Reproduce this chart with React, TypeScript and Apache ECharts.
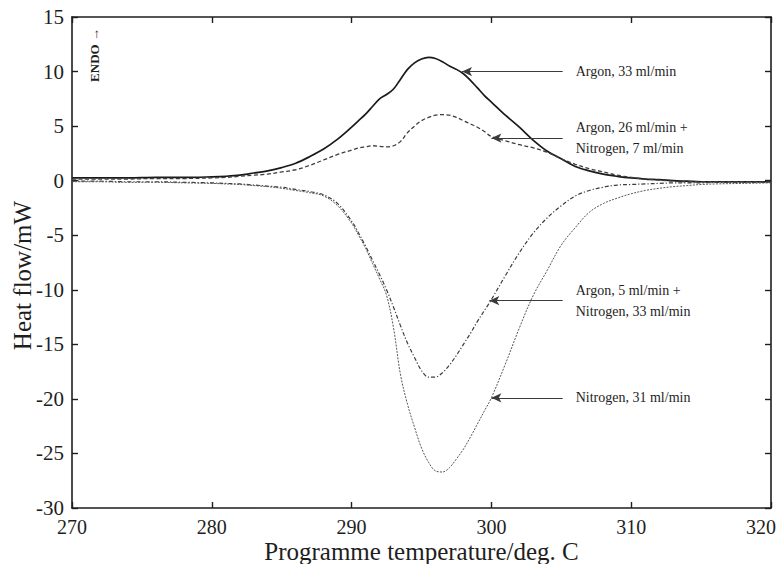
import React, { useEffect, useRef } from "react";
import * as echarts from "echarts";

// Programme temperature (deg. C) at which each heat-flow trace is sampled
const temperature = [
  270, 272, 274, 276, 278, 280,
  281, 282, 283, 284, 285, 286, 287, 288, 289, 290,
  290.5, 291, 291.5, 292, 292.5, 293, 293.5, 294, 294.5, 295,
  295.5, 296, 296.5, 297, 297.5, 298, 298.5, 299, 299.5, 300,
  301, 302, 303, 304, 305, 306, 307, 308, 309, 310, 311, 312, 313, 314, 315, 316,
  318, 320,
];

// Heat flow (mW) for each purge-gas mixture
const argon33 = [
  0.25, 0.25, 0.25, 0.3, 0.3, 0.35,
  0.4, 0.5, 0.7, 0.9, 1.2, 1.6, 2.2, 2.9, 3.8, 4.9,
  5.5, 6.1, 6.8, 7.5, 7.9, 8.4, 9.3, 10.2, 10.8, 11.15,
  11.3, 11.2, 10.9, 10.5, 10.2, 9.8, 9.2, 8.5, 7.8, 7.2,
  6.0, 4.9, 3.7, 2.7, 2.0, 1.3, 0.9, 0.6, 0.4, 0.25, 0.15, 0.1, 0.0, -0.05, -0.1, -0.1,
  -0.1, -0.1,
];

const argon26Nitrogen7 = [
  0.15, 0.15, 0.15, 0.2, 0.2, 0.25,
  0.3, 0.4, 0.5, 0.6, 0.8, 1.0, 1.4, 1.9, 2.4, 2.8,
  3.0, 3.1, 3.2, 3.15, 3.1, 3.2, 3.6, 4.4, 5.0, 5.5,
  5.8, 6.0, 6.05, 6.0, 5.8, 5.5, 5.2, 4.9, 4.5, 4.05,
  3.65, 3.3, 3.0, 2.6, 2.0, 1.5, 1.1, 0.8, 0.5, 0.3, 0.15, 0.05, -0.05, -0.1, -0.1, -0.1,
  -0.1, -0.1,
];

const argon5Nitrogen33 = [
  -0.05, -0.05, -0.1, -0.1, -0.15, -0.2,
  -0.25, -0.3, -0.4, -0.5, -0.6, -0.8, -1.0, -1.3, -2.1, -3.7,
  -4.8, -6.0, -7.3, -8.6, -10.0, -11.6, -13.3, -14.9, -16.2, -17.4,
  -18.0, -18.0, -17.6, -16.9, -16.0, -15.0, -14.0, -12.9, -11.9, -10.9,
  -8.7, -6.6, -4.8, -3.4, -2.3, -1.4, -0.9, -0.6, -0.4, -0.35, -0.3, -0.25, -0.2, -0.2, -0.2, -0.15,
  -0.15, -0.15,
];

const nitrogen31 = [
  -0.1, -0.1, -0.15, -0.15, -0.2, -0.25,
  -0.3, -0.35, -0.45, -0.55, -0.7, -0.9, -1.1, -1.4, -2.3, -3.9,
  -5.0, -6.2, -7.6, -9.0, -10.5, -13.5, -17.8, -20.5, -22.6, -24.5,
  -25.8, -26.6, -26.7, -26.3, -25.5, -24.6, -23.5, -22.3, -21.1, -19.9,
  -16.8, -13.5, -10.5, -8.2, -5.9, -4.3, -2.9, -2.1, -1.6, -1.2, -0.9, -0.7, -0.55, -0.45, -0.35, -0.3,
  -0.25, -0.2,
];

// Callout labels and where their arrows sit: [arrow tip T, tail T, heat flow]
const calloutLabels = [
  "Argon, 33 ml/min",
  "Argon, 26 ml/min +\nNitrogen, 7 ml/min",
  "Argon, 5 ml/min +\nNitrogen, 33 ml/min",
  "Nitrogen, 31 ml/min",
];
const calloutArrows = [
  [297.9, 305.1, 10.0],
  [300.0, 305.1, 3.9],
  [299.85, 305.1, -11.0],
  [300.0, 305.1, -19.9],
];

const xTicks = { min: 270, max: 320, interval: 10 };
const yTicks = { min: -30, max: 15, interval: 5 };

const SERIF = '"Liberation Serif", "Times New Roman", serif';
const INK = "#1e1e1e";

function pairs(values: number[]) {
  return temperature.map((t, i) => [t, values[i]]);
}

function callout(i: number) {
  const [tip, tail, v] = calloutArrows[i];
  return {
    silent: true,
    symbol: ["arrow", "none"],
    symbolSize: [7, 10],
    lineStyle: { color: "#3a3a3a", width: 1.2, type: "solid" },
    label: {
      show: true,
      position: "end",
      distance: 13,
      formatter: calloutLabels[i],
      color: INK,
      fontFamily: SERIF,
      fontSize: 14,
      lineHeight: 21,
      align: "left",
    },
    data: [[{ coord: [tip, v] }, { coord: [tail, v] }]],
  };
}

// Boxed frame: axis line plus short inward ticks on every side
const frameAxis = {
  axisLine: { show: true, onZero: false, lineStyle: { color: INK, width: 1.6 } },
  axisTick: { show: true, inside: true, length: 6, lineStyle: { color: INK, width: 1.4 } },
  splitLine: { show: false },
};

export default function App() {
  const ref = useRef<HTMLDivElement>(null);

  useEffect(() => {
    if (!ref.current) return;
    const chart = echarts.init(ref.current, null, { renderer: "svg" });

    const curve = (
      name: string,
      values: number[],
      lineStyle: any,
      markIndex: number
    ) => ({
      name,
      type: "line",
      xAxisIndex: 0,
      yAxisIndex: 0,
      data: pairs(values),
      smooth: 0.35,
      showSymbol: false,
      symbol: "none",
      lineStyle,
      markLine: callout(markIndex),
      z: 3,
    });

    chart.setOption({
      animation: false,
      backgroundColor: "#ffffff",
      textStyle: { fontFamily: SERIF },
      grid: {
        left: 72,
        right: 12,
        top: 17,
        bottom: 56,
        containLabel: false,
        outerBoundsMode: "none",
      },
      xAxis: [
        {
          type: "value",
          position: "bottom",
          ...xTicks,
          ...frameAxis,
          name: "Programme temperature/deg. C",
          nameLocation: "middle",
          nameGap: 31,
          nameMoveOverlap: false,
          nameTextStyle: { fontFamily: SERIF, fontSize: 25, color: INK },
          axisLabel: {
            color: INK,
            fontFamily: SERIF,
            fontSize: 20,
            lineHeight: 22,
            margin: 8,
            formatter: (v: number) => (v === xTicks.max ? `{edge|${v}}` : `${v}`),
            rich: {
              edge: { fontFamily: SERIF, fontSize: 20, lineHeight: 22, color: INK, padding: [0, 20, 0, 0] },
            },
          },
        },
        {
          type: "value",
          position: "top",
          ...xTicks,
          ...frameAxis,
          axisLabel: { show: false },
        },
      ],
      yAxis: [
        {
          type: "value",
          position: "left",
          ...yTicks,
          ...frameAxis,
          name: "Heat flow/mW",
          nameLocation: "middle",
          nameGap: 37,
          nameMoveOverlap: false,
          nameTextStyle: {
            fontFamily: SERIF,
            fontSize: 25,
            color: INK,
            padding: [0, 26, 0, 0],
          },
          axisLabel: { color: INK, fontFamily: SERIF, fontSize: 21, margin: 8 },
        },
        {
          type: "value",
          position: "right",
          ...yTicks,
          ...frameAxis,
          axisLabel: { show: false },
        },
      ],
      graphic: [
        {
          type: "text",
          x: 94,
          y: 55,
          rotation: Math.PI / 2,
          style: {
            text: "ENDO \u2192",
            font: `bold 13px ${SERIF}`,
            fill: INK,
            align: "center",
            verticalAlign: "middle",
          },
        },
      ],
      series: [
        curve("Argon, 33 ml/min", argon33, { color: "#1a1a1a", width: 1.7, type: "solid" }, 0),
        curve(
          "Argon, 26 ml/min + Nitrogen, 7 ml/min",
          argon26Nitrogen7,
          { color: "#3c3c3c", width: 1.3, type: [4, 2.5] },
          1
        ),
        curve(
          "Argon, 5 ml/min + Nitrogen, 33 ml/min",
          argon5Nitrogen33,
          { color: "#3c3c3c", width: 1.2, type: [4, 2, 1.2, 2] },
          2
        ),
        curve(
          "Nitrogen, 31 ml/min",
          nitrogen31,
          { color: "#555555", width: 1, type: [2, 1.3] },
          3
        ),
      ],
    });

    return () => chart.dispose();
  }, []);

  return (
    <div
      ref={ref}
      style={{ position: "fixed", left: 0, top: 0, width: 783, height: 564, background: "#fff" }}
    />
  );
}
